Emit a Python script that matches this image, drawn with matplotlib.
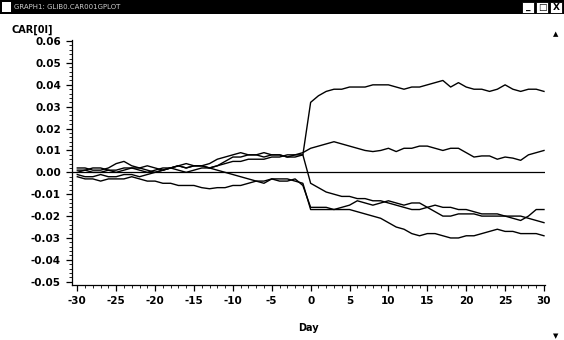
"""
SAS/GRAPH style event-study plot: cumulative abnormal returns around day 0
"""
import matplotlib
matplotlib.use('Agg')
import matplotlib.pyplot as plt
from matplotlib.patches import Rectangle
from matplotlib.ticker import MultipleLocator
import numpy as np

plt.rcParams.update({
    'font.family': 'DejaVu Sans',
    'font.weight': 'bold',
    'axes.linewidth': 0.9,
})

# ── data ────────────────────────────────────────────────────
days = list(range(-30, 31))

car_top = [0.002, 0.002, 0.001, 0.001, 0.002, 0.004, 0.005, 0.003, 0.002, 0.001,
           0.000, 0.001, 0.002, 0.003, 0.002, 0.003, 0.003, 0.004, 0.006, 0.007,
           0.008, 0.009, 0.008, 0.008, 0.009, 0.008, 0.008, 0.007, 0.007, 0.008,
           0.032, 0.035, 0.037, 0.038, 0.038, 0.039, 0.039, 0.039, 0.040, 0.040,
           0.040, 0.039, 0.038, 0.039, 0.039, 0.040, 0.041, 0.042, 0.039, 0.041,
           0.039, 0.038, 0.038, 0.037, 0.038, 0.040, 0.038, 0.037, 0.038, 0.038,
           0.037]
car_mid = [0.001, 0.001, 0.000, 0.000, 0.001, 0.001, 0.002, 0.002, 0.001, 0.000,
           0.001, 0.002, 0.002, 0.003, 0.004, 0.003, 0.003, 0.002, 0.003, 0.004,
           0.005, 0.005, 0.006, 0.006, 0.006, 0.007, 0.007, 0.008, 0.008, 0.009,
           0.011, 0.012, 0.013, 0.014, 0.013, 0.012, 0.011, 0.010, 0.0095, 0.010,
           0.011, 0.0095, 0.011, 0.011, 0.012, 0.012, 0.011, 0.010, 0.011, 0.011,
           0.009, 0.007, 0.0075, 0.0075, 0.006, 0.007, 0.0065, 0.0055, 0.008, 0.009,
           0.010]
car_slide = [0.000, 0.001, 0.002, 0.002, 0.001, 0.000, 0.001, 0.002, 0.002, 0.003,
             0.002, 0.001, 0.002, 0.003, 0.002, 0.003, 0.003, 0.002, 0.003, 0.005,
             0.007, 0.007, 0.008, 0.008, 0.007, 0.008, 0.008, 0.007, 0.008, 0.008,
             -0.005, -0.007, -0.009, -0.010, -0.011, -0.011, -0.012, -0.012, -0.013, -0.013,
             -0.014, -0.015, -0.016, -0.017, -0.017, -0.016, -0.015, -0.016, -0.016, -0.017,
             -0.017, -0.018, -0.019, -0.019, -0.019, -0.020, -0.020, -0.020, -0.021, -0.022,
             -0.023]
car_dip = [-0.002, -0.003, -0.003, -0.004, -0.003, -0.003, -0.003, -0.002, -0.003, -0.004,
           -0.004, -0.005, -0.005, -0.006, -0.006, -0.006, -0.007, -0.0075, -0.007, -0.007,
           -0.006, -0.006, -0.005, -0.004, -0.004, -0.003, -0.003, -0.003, -0.004, -0.005,
           -0.017, -0.017, -0.017, -0.017, -0.016, -0.015, -0.013, -0.014, -0.015, -0.014,
           -0.013, -0.014, -0.015, -0.014, -0.014, -0.016, -0.018, -0.020, -0.020, -0.019,
           -0.019, -0.019, -0.020, -0.020, -0.020, -0.020, -0.021, -0.022, -0.020, -0.017,
           -0.017]
car_low = [-0.001, -0.002, -0.002, -0.001, -0.002, -0.002, -0.001, -0.001, -0.002, -0.001,
           0.000, 0.001, 0.002, 0.001, 0.000, 0.001, 0.002, 0.002, 0.001, 0.000,
           -0.001, -0.002, -0.003, -0.004, -0.005, -0.003, -0.004, -0.004, -0.003, -0.006,
           -0.016, -0.016, -0.016, -0.017, -0.017, -0.017, -0.018, -0.019, -0.020, -0.021,
           -0.023, -0.025, -0.026, -0.028, -0.029, -0.028, -0.028, -0.029, -0.030, -0.030,
           -0.029, -0.029, -0.028, -0.027, -0.026, -0.027, -0.027, -0.028, -0.028, -0.028,
           -0.029]

yticks = [-0.05, -0.04, -0.03, -0.02, -0.01, 0.00, 0.01, 0.02, 0.03, 0.04, 0.05, 0.06]
xticks = list(range(-30, 31, 5))

W, H = 564, 340
fig = plt.figure(figsize=(W / 100, H / 100), dpi=100)
fig.patch.set_facecolor('white')

# window title bar
fig.patches.append(Rectangle((0, 1 - 14 / H), 1, 14 / H, transform=fig.transFigure,
                             facecolor='black', edgecolor='none'))
fig.text(14 / W, 1 - 7 / H, 'GRAPH1: GLIB0.CAR001GPLOT', color='#cccccc',
         fontsize=5, fontweight='normal', va='center', ha='left')
fig.patches.append(Rectangle((2 / W, 1 - 12 / H), 9 / W, 10 / H, transform=fig.transFigure,
                             facecolor='white', edgecolor='none'))
for i, g in enumerate(['_', '\u25a1', 'X']):
    x0 = (522 + i * 14) / W
    fig.patches.append(Rectangle((x0, 1 - 13 / H), 12 / W, 11 / H, transform=fig.transFigure,
                                 facecolor='white', edgecolor='black', linewidth=0.6))
    fig.text(x0 + 6 / W, 1 - 7.5 / H, g, color='black', fontsize=6.5,
             ha='center', va='center')

# scrollbar arrows on the right edge
fig.text(556 / W, 1 - 34 / H, '\u25b2', fontsize=5, ha='center', va='center')
fig.text(556 / W, 1 - 336 / H, '\u25bc', fontsize=5, ha='center', va='center')

ax = fig.add_axes([72 / W, 1 - 285 / H, 473 / W, 245 / H])
for s in [car_top, car_mid, car_slide, car_dip, car_low]:
    ax.plot(days, s, color='black', linewidth=1.0)
ax.axhline(0, color='black', linewidth=0.9)

ax.set_xlim(-30.68, 30.13)
ax.set_ylim(-0.0515, 0.0605)
ax.set_xticks(xticks)
ax.set_xticklabels([str(v) for v in xticks])
ax.set_yticks(yticks)
ax.set_yticklabels([f'{v:.2f}' for v in yticks])
ax.xaxis.set_minor_locator(MultipleLocator(1))
ax.yaxis.set_minor_locator(MultipleLocator(0.002))
ax.tick_params(which='major', direction='out', length=4, width=0.9, labelsize=7.5)
ax.tick_params(axis='x', which='major', pad=4)
ax.tick_params(axis='y', which='major', pad=4)
ax.tick_params(which='minor', direction='out', length=2, width=0.6)
for lab in ax.get_xticklabels() + ax.get_yticklabels():
    lab.set_fontweight('bold')
ax.spines['top'].set_visible(False)
ax.spines['right'].set_visible(False)

ax.set_xlabel('Day', fontsize=7, fontweight='bold', labelpad=12)
fig.text(12 / W, 1 - 30 / H, 'CAR[0I]', fontsize=7, fontweight='bold',
         ha='left', va='center')

fig.savefig('out.png', dpi=100)
plt.close()
